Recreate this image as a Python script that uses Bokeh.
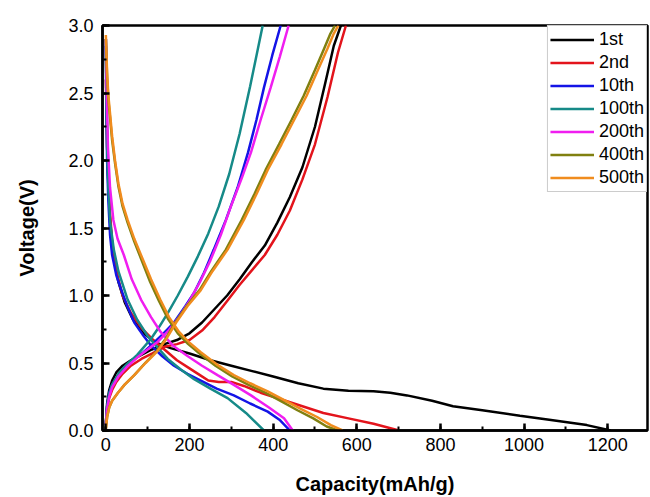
from bokeh.plotting import figure
from bokeh.models import Legend, LegendItem, Range1d, SingleIntervalTicker, PrintfTickFormatter
from bokeh.embed import file_html
from bokeh.resources import INLINE

# ---- data (capacity mAh/g, voltage V) ----
labels = ["1st", "2nd", "10th", "100th", "200th", "400th", "500th"]
colors = ["#000000", "#e3141c", "#1414e6", "#168a88", "#f01ef0", "#808010", "#f08c1e"]
x_label = "Capacity(mAh/g)"
y_label = "Voltage(V)"

d1_cap = [0, 2, 5, 10, 18, 30, 45, 65, 90, 120, 155, 200, 250, 300, 350, 400, 460, 520, 580, 640, 680, 720, 780, 830, 900, 990, 1060, 1150, 1207]
d1_v = [2.85, 2.4, 1.9, 1.55, 1.3, 1.1, 0.95, 0.82, 0.72, 0.65, 0.61, 0.57, 0.52, 0.48, 0.44, 0.40, 0.35, 0.31, 0.295, 0.29, 0.28, 0.26, 0.22, 0.18, 0.15, 0.11, 0.08, 0.04, 0.0]
c1_cap = [0, 3, 8, 15, 25, 40, 60, 85, 110, 140, 170, 200, 230, 260, 290, 320, 350, 380, 410, 440, 470, 500, 525, 545, 562]
c1_v = [0.05, 0.2, 0.3, 0.37, 0.43, 0.48, 0.52, 0.56, 0.6, 0.64, 0.67, 0.72, 0.8, 0.9, 1.0, 1.12, 1.25, 1.37, 1.54, 1.73, 1.95, 2.25, 2.58, 2.85, 3.0]

d2_cap = [0, 3, 8, 15, 25, 40, 60, 85, 110, 140, 170, 200, 225, 245, 270, 300, 330, 370, 420, 470, 520, 580, 640, 701]
d2_v = [2.6, 2.1, 1.7, 1.4, 1.18, 1.0, 0.87, 0.76, 0.68, 0.6, 0.52, 0.46, 0.41, 0.37, 0.36, 0.36, 0.33, 0.28, 0.23, 0.18, 0.13, 0.09, 0.05, 0.0]
c2_cap = [0, 3, 8, 15, 25, 40, 60, 85, 110, 140, 170, 200, 230, 260, 290, 320, 350, 380, 410, 440, 470, 500, 530, 555, 574]
c2_v = [0.05, 0.16, 0.24, 0.3, 0.36, 0.42, 0.48, 0.53, 0.57, 0.62, 0.64, 0.67, 0.74, 0.84, 0.96, 1.08, 1.19, 1.3, 1.45, 1.63, 1.86, 2.12, 2.47, 2.8, 3.0]

d10_cap = [0, 1, 3, 6, 10, 15, 25, 36, 50, 68, 88, 108, 135, 163, 195, 227, 265, 306, 345, 387, 415, 440]
d10_v = [2.9, 2.5, 2.0, 1.7, 1.45, 1.3, 1.15, 1.05, 0.93, 0.8, 0.71, 0.63, 0.55, 0.48, 0.42, 0.37, 0.31, 0.26, 0.2, 0.14, 0.08, 0.0]
c10_cap = [0, 3, 8, 15, 29, 45, 68, 90, 108, 135, 163, 190, 211, 235, 258, 287, 315, 340, 360, 378, 398, 418]
c10_v = [0.05, 0.18, 0.28, 0.34, 0.41, 0.47, 0.53, 0.58, 0.63, 0.71, 0.8, 0.92, 1.02, 1.17, 1.34, 1.56, 1.8, 2.06, 2.3, 2.54, 2.78, 3.0]

d100_cap = [0, 1, 3, 6, 10, 19, 30, 52, 75, 100, 125, 148, 180, 211, 250, 291, 335, 378]
d100_v = [2.9, 2.5, 2.1, 1.8, 1.55, 1.34, 1.18, 0.97, 0.82, 0.7, 0.61, 0.53, 0.45, 0.38, 0.31, 0.24, 0.13, 0.0]
c100_cap = [0, 3, 8, 15, 30, 50, 75, 108, 128, 148, 172, 196, 220, 245, 270, 295, 320, 345, 375]
c100_v = [0.05, 0.18, 0.27, 0.34, 0.42, 0.49, 0.56, 0.68, 0.77, 0.87, 1.0, 1.14, 1.29, 1.46, 1.66, 1.9, 2.2, 2.55, 3.0]

d200_cap = [0, 2, 5, 10, 18, 28, 43, 62, 84, 108, 131, 160, 196, 230, 267, 305, 347, 390, 426, 447]
d200_v = [2.9, 2.5, 2.1, 1.8, 1.56, 1.42, 1.3, 1.12, 0.97, 0.84, 0.73, 0.63, 0.55, 0.48, 0.41, 0.34, 0.26, 0.17, 0.09, 0.0]
c200_cap = [0, 3, 8, 15, 30, 50, 75, 100, 125, 150, 175, 200, 225, 250, 275, 299, 325, 347, 370, 394, 416, 437]
c200_v = [0.04, 0.16, 0.25, 0.32, 0.4, 0.47, 0.54, 0.6, 0.66, 0.74, 0.84, 0.96, 1.1, 1.26, 1.45, 1.66, 1.87, 2.06, 2.3, 2.54, 2.77, 3.0]

d400_cap = [0, 3, 6, 10, 15, 22, 30, 40, 52, 68, 87, 106, 127, 148, 172, 197, 224, 262, 302, 340, 381, 423, 458, 496, 528, 555]
d400_v = [2.9, 2.62, 2.45, 2.32, 2.15, 1.98, 1.81, 1.66, 1.54, 1.4, 1.25, 1.1, 0.96, 0.83, 0.72, 0.64, 0.57, 0.48, 0.4, 0.34, 0.28, 0.21, 0.15, 0.09, 0.03, 0.0]
c400_cap = [0, 3, 8, 15, 29, 45, 68, 94, 122, 143, 166, 193, 224, 252, 287, 325, 355, 382, 414, 444, 473, 500, 522, 537, 548]
c400_v = [0.01, 0.1, 0.17, 0.22, 0.28, 0.34, 0.41, 0.5, 0.59, 0.68, 0.8, 0.92, 1.04, 1.18, 1.34, 1.56, 1.75, 1.93, 2.12, 2.3, 2.48, 2.67, 2.83, 2.94, 3.0]

d500_cap = [0, 3, 6, 10, 15, 22, 30, 40, 52, 68, 88, 108, 130, 151, 175, 200, 227, 265, 306, 345, 387, 430, 466, 505, 538, 566]
d500_v = [2.93, 2.65, 2.48, 2.35, 2.18, 2.0, 1.83, 1.68, 1.56, 1.42, 1.27, 1.12, 0.97, 0.84, 0.73, 0.65, 0.58, 0.49, 0.41, 0.35, 0.29, 0.22, 0.16, 0.1, 0.04, 0.0]
c500_cap = [0, 3, 8, 15, 29, 45, 68, 95, 124, 145, 168, 195, 227, 255, 291, 330, 360, 387, 420, 450, 480, 507, 530, 545, 556]
c500_v = [0.01, 0.1, 0.17, 0.22, 0.28, 0.34, 0.41, 0.5, 0.59, 0.68, 0.8, 0.92, 1.04, 1.18, 1.34, 1.56, 1.75, 1.93, 2.12, 2.3, 2.48, 2.67, 2.83, 2.94, 3.0]

series = [
    (d1_cap, d1_v, c1_cap, c1_v),
    (d2_cap, d2_v, c2_cap, c2_v),
    (d10_cap, d10_v, c10_cap, c10_v),
    (d100_cap, d100_v, c100_cap, c100_v),
    (d200_cap, d200_v, c200_cap, c200_v),
    (d400_cap, d400_v, c400_cap, c400_v),
    (d500_cap, d500_v, c500_cap, c500_v),
]

FONT = "Liberation Sans"

p = figure(width=650, height=497, output_backend="svg", toolbar_location=None,
           x_range=Range1d(-8, 1295), y_range=Range1d(0, 3),
           min_border_left=102, min_border_right=3, min_border_top=25, min_border_bottom=65)
p.xgrid.visible = False
p.ygrid.visible = False
p.background_fill_color = "white"
p.border_fill_color = "white"
p.outline_line_color = "black"
p.outline_line_width = 2.5
p.outline_line_alpha = 1.0

items = []
for (dc, dv, cc, cv), lab, col in zip(series, labels, colors):
    r1 = p.line(dc, dv, line_color=col, line_width=2.5)
    p.line(cc, cv, line_color=col, line_width=2.5)
    items.append(LegendItem(label=lab, renderers=[r1]))

legend = Legend(items=items, location="top_right")
legend.margin = 0
legend.padding = 2
legend.spacing = 0
legend.glyph_height = 23
legend.label_height = 23
legend.glyph_width = 44
legend.label_standoff = 5
legend.label_text_font = FONT
legend.label_text_font_size = "18px"
legend.label_text_color = "black"
legend.border_line_color = "#999999"
legend.border_line_width = 1
legend.background_fill_color = "white"
legend.background_fill_alpha = 1.0
p.add_layout(legend)

p.xaxis.ticker = SingleIntervalTicker(interval=200, num_minor_ticks=2)
p.yaxis.ticker = SingleIntervalTicker(interval=0.5, num_minor_ticks=2)
p.yaxis.formatter = PrintfTickFormatter(format="%.1f")

for ax in (p.xaxis[0], p.yaxis[0]):
    ax.axis_line_color = "black"
    ax.axis_line_width = 2.5
    ax.major_tick_in = 7
    ax.major_tick_out = 0
    ax.minor_tick_in = 4
    ax.minor_tick_out = 0
    ax.major_tick_line_width = 2.5
    ax.minor_tick_line_width = 2
    ax.major_tick_line_color = "black"
    ax.minor_tick_line_color = "black"
    ax.major_label_text_font = FONT
    ax.major_label_text_font_size = "18px"
    ax.major_label_text_color = "black"
    ax.axis_label_text_font = FONT
    ax.axis_label_text_font_size = "20px"
    ax.axis_label_text_font_style = "bold"
    ax.axis_label_text_color = "black"

p.xaxis.axis_label = x_label
p.yaxis.axis_label = y_label
p.xaxis.major_label_standoff = 7
p.yaxis.major_label_standoff = 9
p.xaxis.axis_label_standoff = 19
p.yaxis.axis_label_standoff = 27

open("out.html", "w").write(file_html(p, INLINE))
